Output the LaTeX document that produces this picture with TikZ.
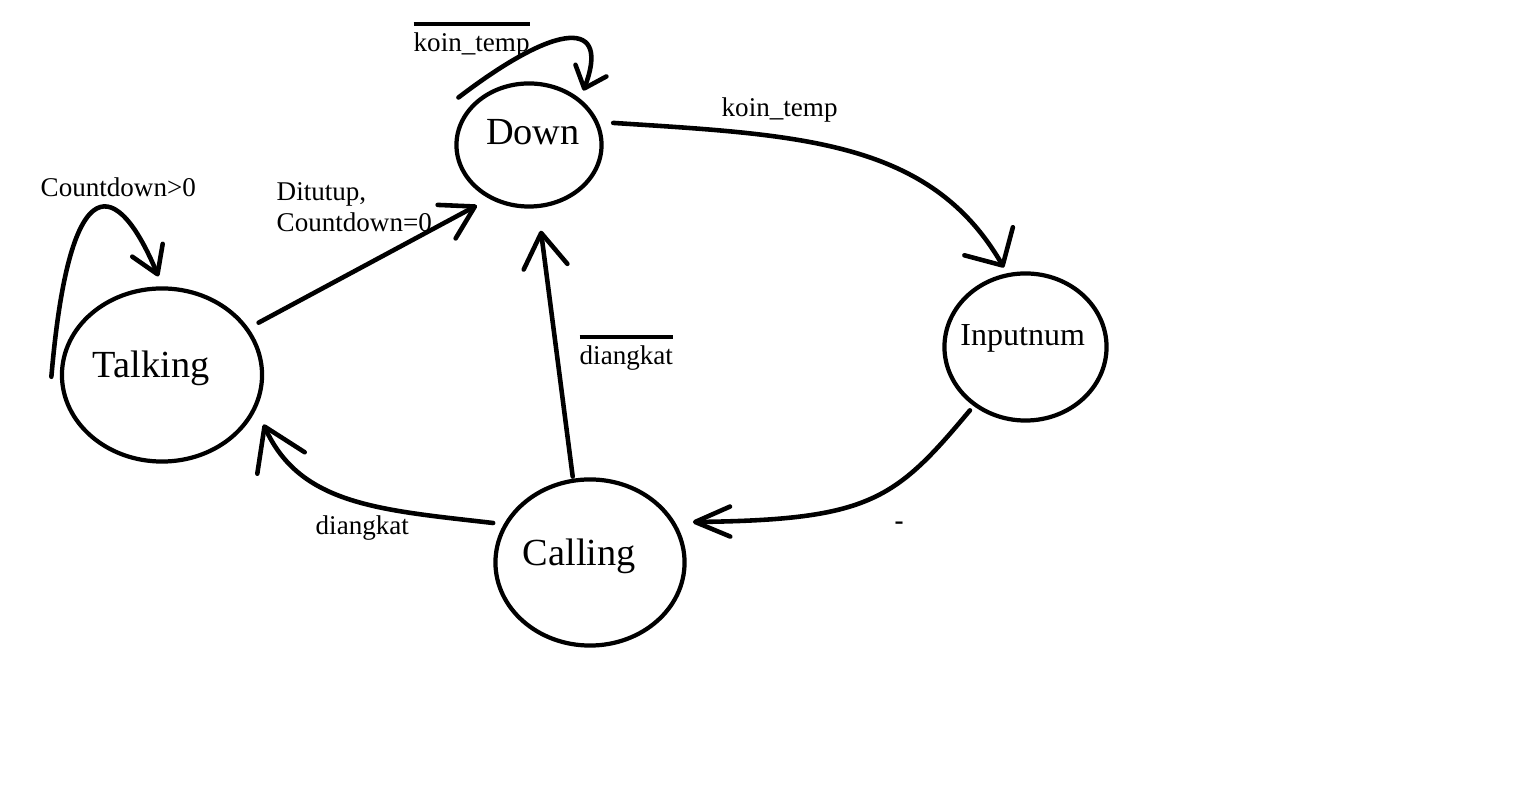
\documentclass[tikz,border=0pt]{standalone}
\usepackage{fontspec}
\setmainfont{Liberation Serif}
\usetikzlibrary{shapes.geometric,arrows.meta}
\newcommand\negbar[1]{\vbox{\hrule height 1.1pt\kern 2pt\hbox{#1}}}
\begin{document}
\begin{tikzpicture}[x=0.01cm,y=-0.01cm,
  state/.style={draw, ellipse, line width=1.2pt, inner sep=0pt},
  big/.style={font=\fontsize{10.9}{13}\selectfont, inner sep=0pt},
  mid/.style={font=\fontsize{9.1}{11}\selectfont, inner sep=0pt},
  lbl/.style={font=\fontsize{7.7}{9}\selectfont, inner sep=0pt},
  conn/.style={line width=1.3pt, line cap=round},
  myarr/.style 2 args={-{Straight Barb[length=#1cm,width=#2cm,round]}}]
\fill[white] (0,0) rectangle (1521,792);
\useasboundingbox (0,0) rectangle (1521,792);

% states
\node[state, minimum width=1.45cm, minimum height=1.23cm,
  label={[big, shift={(4,-12.7)}]center:Down}] (down) at (529,145) {};
\node[state, minimum width=2.0cm, minimum height=1.73cm,
  label={[big, shift={(-11,-7)}]center:Talking}] (talk) at (162,375) {};
\node[state, minimum width=1.62cm, minimum height=1.47cm,
  label={[mid, shift={(-2.8,-8.1)}]center:Inputnum}] (inp) at (1025.5,347) {};
\node[state, minimum width=1.89cm, minimum height=1.66cm,
  label={[big, shift={(-10.6,-6.5)}]center:Calling}] (call) at (590,562.5) {};

% connectors
\draw[conn, myarr={0.19}{0.33}] ([shift={(-12,-8)}]down.146)
  .. controls (560,20) and (610,20) .. ([shift={(6,-6)}]down.45);
\draw[conn, myarr={0.28}{0.56}] ([shift={(13,-3)}]down.15)
  .. controls (800,135) and (930,140) .. ([shift={(-2,-6)}]inp.105);
\draw[conn, myarr={0.35}{0.30}] ([shift={(-4,4)}]inp.229)
  .. controls (895,500) and (870,520) .. ([shift={(15,-5)}]call.22);
\draw[conn, myarr={0.34}{0.44}] ([shift={(-1,-2)}]call.101)
  -- ([shift={(3,22.5)}]down.278);
\draw[conn, myarr={0.40}{0.52}] ([shift={(-9,-4)}]call.158)
  .. controls (380,510) and (300,505) .. ([shift={(12.5,6)}]talk.334);
\draw[conn, myarr={0.32}{0.38}] ([shift={(9.5,-6)}]talk.28)
  -- ([shift={(-7.7,9.3)}]down.229.5);
\draw[conn, myarr={0.26}{0.33}] ([shift={(-8.5,0)}]talk.181.6)
  .. controls (70,160) and (118,180) .. ([shift={(-0.5,-10)}]talk.92.3);

% labels
\node[lbl, anchor=base west] (l1) at (413,52) {\negbar{koin\_temp}};
\node[lbl, anchor=base west] (l2) at (721,117) {koin\_temp};
\node[lbl, anchor=base west] (l3) at (40,197) {Countdown>0};
\node[lbl, anchor=north west, align=left] (l4) at (276,181.5) {Ditutup,\\Countdown=0};
\node[lbl, anchor=base west] (l5) at (579,365) {\negbar{diangkat}};
\node[lbl, anchor=base west] (l6) at (315,535) {diangkat};
\node[lbl, anchor=base, font=\fontsize{7.7}{9}\selectfont\bfseries] (l7) at (899,530) {-};
\end{tikzpicture}
\end{document}
